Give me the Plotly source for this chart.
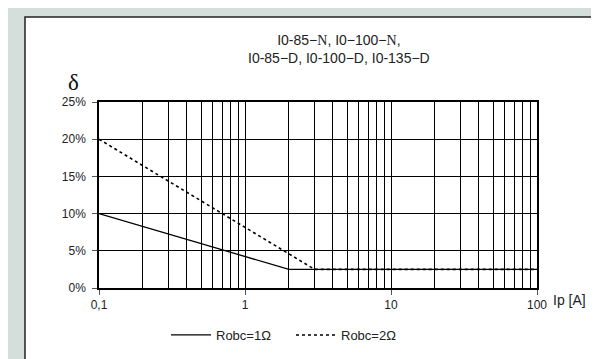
import plotly.graph_objects as go

# Data (current Ip in A, error delta as fraction)
ip_r1 = [0.1, 2, 100]
delta_r1 = [0.10, 0.025, 0.025]
ip_r2 = [0.1, 3, 100]
delta_r2 = [0.20, 0.025, 0.025]
series_names = ["Robc=1Ω", "Robc=2Ω"]
x_major = [0.1, 1, 10, 100]
x_major_text = ["0,1", "1", "10", "100"]
x_minor = [m * d for d in [0.1, 1, 10] for m in range(2, 10)]
y_ticks = [0, 0.05, 0.10, 0.15, 0.20, 0.25]
y_tick_text = ["0%", "5%", "10%", "15%", "20%", "25%"]

W, H = 599, 359
L, R, T, B = 91, 70, 94, 79
pw, ph = W - L - R, H - T - B

def px(x):
    return (x - L) / pw

def py(y):
    return (H - B - y) / ph

fig = go.Figure()
fig.add_trace(go.Scatter(x=ip_r1, y=delta_r1, mode="lines", name=series_names[0],
                         line=dict(color="black", width=1.3)))
fig.add_trace(go.Scatter(x=ip_r2, y=delta_r2, mode="lines", name=series_names[1],
                         line=dict(color="black", width=1.6, dash="dot")))

font_main = "Liberation Sans, Arial, sans-serif"
serif = "Liberation Serif, Times New Roman, serif"

fig.update_layout(
    width=W, height=H,
    margin=dict(l=L, r=R, t=T, b=B, pad=0),
    paper_bgcolor="#d4deda",
    plot_bgcolor="white",
    font=dict(family=font_main, size=12, color="#222"),
    showlegend=True,
    legend=dict(orientation="h", x=px(283), xanchor="center", y=py(327), yanchor="middle",
                bgcolor="rgba(0,0,0,0)", font=dict(size=13, color="#222"),
                itemwidth=40, entrywidth=70, entrywidthmode="pixels", tracegroupgap=0),
    shapes=[
        dict(type="rect", xref="paper", yref="paper", layer="below",
             x0=px(17), x1=px(595), y0=py(365), y1=py(9),
             fillcolor="white", line=dict(color="#222", width=1.5)),
    ],
    annotations=[
        dict(text="I0-85−<span style='font-family:" + serif + "'>N</span>, "
                  "I0−100−<span style='font-family:" + serif + "'>N</span>,"
                  "<br>I0-85−D, I0-100−D, I0-135−D",
             xref="paper", yref="paper", x=px(331), y=py(41), xanchor="center", yanchor="middle",
             showarrow=False, font=dict(size=14, color="#222"), align="center"),
        dict(text="δ", xref="paper", yref="paper", x=px(65), y=py(74),
             xanchor="center", yanchor="middle", showarrow=False,
             font=dict(family=serif, size=23, color="#111")),
        dict(text="Ip [A]", xref="paper", yref="paper", x=px(543), y=py(292),
             xanchor="left", yanchor="middle", showarrow=False,
             font=dict(size=14, color="#222")),
    ],
)

fig.update_xaxes(
    type="log", range=[-1, 2],
    tickvals=x_major, ticktext=x_major_text,
    ticks="outside", ticklen=5, tickcolor="#555", tickwidth=1,
    showgrid=True, gridcolor="black", gridwidth=1,
    showline=True, linecolor="black", linewidth=1.5, mirror=True,
    zeroline=False,
    minor=dict(tickvals=x_minor, showgrid=True, gridcolor="black", gridwidth=1, ticks=""),
    tickfont=dict(size=12, color="#222"),
)
fig.update_yaxes(
    range=[0, 0.25],
    tickvals=y_ticks, ticktext=y_tick_text,
    ticks="outside", ticklen=5, tickcolor="#555", tickwidth=1,
    showgrid=True, gridcolor="black", gridwidth=1,
    showline=True, linecolor="black", linewidth=1.5, mirror=True,
    zeroline=False, ticklabelstandoff=4,
    tickfont=dict(size=12, color="#222"),
)

fig.write_html("out.html")
